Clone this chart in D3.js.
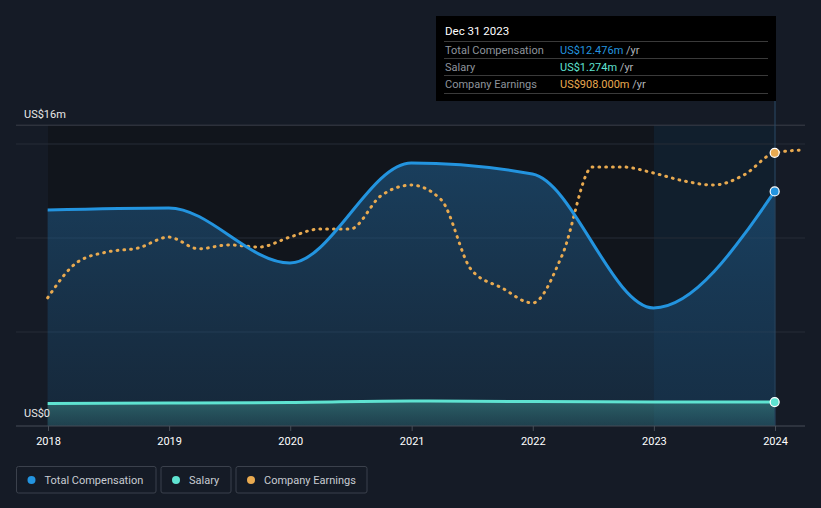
<!DOCTYPE html>
<html><head><meta charset="utf-8">
<script src="https://cdn.jsdelivr.net/npm/d3@7/dist/d3.min.js"></script>
<style>
html,body{margin:0;padding:0;background:#151b26;}
svg{display:block;font-family:Roboto,"Open Sans",sans-serif;}
</style></head>
<body><svg id="c" width="821" height="508"></svg>
<script>
const compDates = ["2017-12-31","2018-12-31","2019-12-31","2020-12-31","2021-12-31","2022-12-31","2023-12-31"];
const totalComp = [11.49, 11.6, 8.67, 13.99, 13.4, 6.28, 12.476];
const salary = [1.2, 1.22, 1.25, 1.33, 1.3, 1.28, 1.274];
const earnDates = ["2017-12-31","2018-03-31","2018-06-30","2018-09-30","2018-12-31","2019-03-31","2019-06-30","2019-09-30","2019-12-31","2020-03-31","2020-06-30","2020-09-30","2020-12-31","2021-03-31","2021-06-30","2021-09-30","2021-12-31","2022-03-31","2022-06-30","2022-09-30","2022-12-31","2023-03-31","2023-06-30","2023-09-30","2023-12-31","2024-03-31"];
const earnings = [426,545,579,592,628,589,602,595,628,655,655,765,801,752,519,459,409,569,861,861,841,815,801,835,908,918];
const xTicks = ["2018","2019","2020","2021","2022","2023","2024"];
const yLabels = ["US$0","US$16m"];
const legendItems = ["Total Compensation","Salary","Company Earnings"];
const tipTitle = "Dec 31 2023";
const tipRows = [["Total Compensation","US$12.476m"],["Salary","US$1.274m"],["Company Earnings","US$908.000m"]];

const C_BLUE="#2394df", C_TEAL="#5fe3d1", C_ORANGE="#e9aa50";
const svg = d3.select("#c");
const parse = d3.timeParse("%Y-%m-%d");
const x = d3.scaleTime().domain([new Date(2018,0,1), new Date(2024,0,1)]).range([48,775]);
const y = d3.scaleLinear().domain([0,16]).range([426,125.2]);
const yE = d3.scaleLinear().domain([0,1000]).range([426,125.2]);

const defs = svg.append("defs");
const g1 = defs.append("linearGradient").attr("id","gc").attr("x1",0).attr("y1",0).attr("x2",0).attr("y2",1);
g1.append("stop").attr("offset","0%").attr("stop-color","#1f5a88").attr("stop-opacity",0.6);
g1.append("stop").attr("offset","100%").attr("stop-color","#1f4a70").attr("stop-opacity",0.35);
const g2 = defs.append("linearGradient").attr("id","gs").attr("x1",0).attr("y1",0).attr("x2",0).attr("y2",1);
g2.append("stop").attr("offset","0%").attr("stop-color","#3f8f8c").attr("stop-opacity",0.55);
g2.append("stop").attr("offset","100%").attr("stop-color","#2f6f74").attr("stop-opacity",0.35);

// plot background
svg.append("rect").attr("x",48).attr("y",y(16)).attr("width",775-48).attr("height",426-y(16)).attr("fill","#11151c");
// highlight band
const x23 = x(new Date(2023,0,1));
svg.append("rect").attr("x",x23).attr("y",y(16)).attr("width",775-x23).attr("height",426-y(16)).attr("fill","#12283d").attr("opacity",0.55);

// gridlines
[5,10,15].forEach(v=>{
  svg.append("line").attr("x1",16).attr("x2",805).attr("y1",y(v)).attr("y2",y(v)).attr("stroke","#262c37").attr("stroke-width",1);
});
svg.append("line").attr("x1",16).attr("x2",805).attr("y1",y(16)).attr("y2",y(16)).attr("stroke","#3a3f49").attr("stroke-width",1);

const compData = compDates.map((d,i)=>({d:parse(d),v:totalComp[i],s:salary[i]}));
const earnData = earnDates.map((d,i)=>({d:parse(d),v:earnings[i]}));

const area = d3.area().curve(d3.curveMonotoneX).x(d=>x(d.d)).y0(426).y1(d=>y(d.v));
svg.append("path").datum(compData).attr("d",area).attr("fill","url(#gc)");
const areaS = d3.area().curve(d3.curveMonotoneX).x(d=>x(d.d)).y0(426).y1(d=>y(d.s));
svg.append("path").datum(compData).attr("d",areaS).attr("fill","url(#gs)");

// vertical hover line
svg.append("line").attr("x1",775).attr("x2",775).attr("y1",101).attr("y2",426).attr("stroke","#2b4a66").attr("stroke-width",1);

const line = d3.line().curve(d3.curveMonotoneX).x(d=>x(d.d)).y(d=>y(d.v));
const lineS = d3.line().curve(d3.curveMonotoneX).x(d=>x(d.d)).y(d=>y(d.s));
const lineE = d3.line().curve(d3.curveMonotoneX).x(d=>x(d.d)).y(d=>yE(d.v));
svg.append("path").datum(earnData).attr("d",lineE).attr("fill","none").attr("stroke",C_ORANGE).attr("stroke-width",3).attr("stroke-dasharray","0.8,6").attr("stroke-linecap","round");
svg.append("path").datum(compData).attr("d",lineS).attr("fill","none").attr("stroke",C_TEAL).attr("stroke-width",3);
svg.append("path").datum(compData).attr("d",line).attr("fill","none").attr("stroke",C_BLUE).attr("stroke-width",3);

// axis
svg.append("line").attr("x1",16).attr("x2",805).attr("y1",426).attr("y2",426).attr("stroke","#474d57").attr("stroke-width",1);
const xa = svg.append("g").attr("transform","translate(0,426)")
  .call(d3.axisBottom(x).tickValues(xTicks.map(t=>new Date(+t,0,1))).tickFormat((d,i)=>xTicks[i]).tickSize(5).tickPadding(6));
xa.select(".domain").remove();
xa.selectAll(".tick line").attr("stroke","#474d57");
xa.selectAll(".tick text").attr("fill","#ffffff").attr("font-size",11).attr("font-family","Roboto");

// y labels
svg.append("text").attr("x",24).attr("y",y(0)-9).text(yLabels[0]).attr("fill","#e8e8e8").attr("font-size",11);
svg.append("text").attr("x",24).attr("y",y(16)-7).text(yLabels[1]).attr("fill","#e8e8e8").attr("font-size",11);

// end markers
const last = compData[compData.length-1];
const lastE = earnData[24];
[[x(last.d),y(last.v),C_BLUE],[x(last.d),y(last.s),C_TEAL],[x(lastE.d),yE(lastE.v),C_ORANGE]].forEach(p=>{
  svg.append("circle").attr("cx",p[0]).attr("cy",p[1]).attr("r",4.5).attr("fill",p[2]).attr("stroke","#ffffff").attr("stroke-width",1.2);
});

// tooltip
const tip = svg.append("g");
tip.append("rect").attr("x",436).attr("y",16).attr("width",340).attr("height",85).attr("fill","#000000");
tip.append("text").attr("x",445).attr("y",35).text(tipTitle).attr("fill","#ffffff").attr("font-size",11.5);
[41.5,58.5,75.5,93.5].forEach(yy=>tip.append("line").attr("x1",444).attr("x2",768).attr("y1",yy).attr("y2",yy).attr("stroke","#3a3a3a").attr("stroke-width",1));
const tipColors=[C_BLUE,C_TEAL,C_ORANGE];
tipRows.forEach((r,i)=>{
  const yy = 53.5 + i*17.3;
  tip.append("text").attr("x",445).attr("y",yy).text(r[0]).attr("fill","#8e949c").attr("font-size",11);
  const t = tip.append("text").attr("x",560).attr("y",yy).attr("font-size",11);
  t.append("tspan").text(r[1]).attr("fill",tipColors[i]);
  t.append("tspan").text(" /yr").attr("fill","#b0b4ba");
});

// legend
const lx = [16,160.5,235.5], lw=[139.5,70,131];
legendItems.forEach((name,i)=>{
  const g = svg.append("g");
  g.append("rect").attr("x",lx[i]+0.5).attr("y",466.5).attr("width",lw[i]).attr("height",26.5).attr("rx",2).attr("fill","none").attr("stroke","#3b414c");
  g.append("circle").attr("cx",lx[i]+15.5).attr("cy",480).attr("r",4).attr("fill",tipColors[i]);
  g.append("text").attr("x",lx[i]+28.5).attr("y",483.5).text(name).attr("fill","#c8ccd2").attr("font-size",11);
});
</script></body></html>
